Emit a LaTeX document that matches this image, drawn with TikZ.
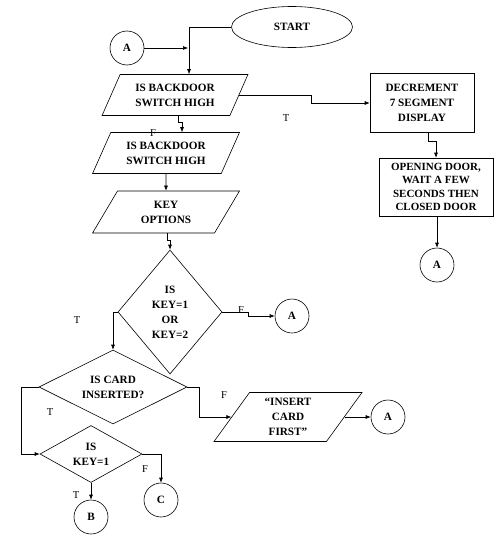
\documentclass[tikz,border=0pt]{standalone}
\usepackage{fontspec}
\setmainfont{Liberation Serif}
\usetikzlibrary{shapes.geometric,arrows.meta}
\begin{document}
\begin{tikzpicture}[x=1pt, y=-1pt, line width=0.6pt, >={Latex[length=5pt,width=4pt]},
	box/.style = {draw, font=\bfseries\fontsize{11.2}{15}\selectfont, align=center, inner sep=0pt},
	io/.style = {box, trapezium, trapezium left angle=60, trapezium right angle=120, trapezium stretches=true},
	proc/.style = {box, rectangle},
	cond/.style = {box, diamond},
	conn/.style = {draw, circle, minimum size=34pt, inner sep=0pt, font=\bfseries\fontsize{11.2}{12}\selectfont},
	lbl/.style = {font=\fontsize{10.5}{12}\selectfont, inner sep=0pt}]
	\useasboundingbox (0,0) rectangle (503,551);
	
	\node[box, ellipse, minimum width=121pt, minimum height=41pt] (start) at (292,27) {START};
	\node[conn] (a1) at (127,48) {A};
	\coordinate (join) at (188,48);
	\node[io, minimum width=146pt, minimum height=41pt] (p1) at (175,95) {IS BACKDOOR\\SWITCH HIGH};
	\node[io, minimum width=147pt, minimum height=41pt] (p2) at (166,153) {IS BACKDOOR\\SWITCH HIGH};
	\node[io, minimum width=147pt, minimum height=42pt] (p3) at (166,212) {KEY\\OPTIONS};
	\node[cond, minimum width=104pt, minimum height=124pt, aspect=0.84] (d1) at (170,312) {IS\\KEY=1\\OR\\KEY=2};
	\node[conn] (a2) at (292,316) {A};
	\node[cond, minimum width=148pt, minimum height=74pt, aspect=2] (d2) at (113,387) {IS CARD\\INSERTED?};
	\node[io, minimum width=149pt, minimum height=49pt] (p4) at (288,417) {“INSERT\\CARD\\FIRST”};
	\node[conn] (a4) at (388,417) {A};
	\node[cond, minimum width=102pt, minimum height=57pt, aspect=1.8] (d3) at (91,454) {IS\\KEY=1};
	\node[conn] (b) at (91,517) {B};
	\node[conn] (c) at (161,500) {C};
	\node[proc, minimum width=104pt, minimum height=59pt] (dec) at (422,103) {DECREMENT\\7 SEGMENT\\DISPLAY};
	\node[proc, minimum width=114pt, minimum height=58pt, font=\bfseries\fontsize{11}{13.5}\selectfont] (open) at (436,187) {OPENING DOOR,\\WAIT A FEW\\SECONDS THEN\\CLOSED DOOR};
	\node[conn] (a3) at (437,265) {A};
	
	\node[lbl] (t1) at (286,118) {T};
	\node[lbl] (f1) at (153,133) {F};
	\node[lbl] (f2) at (241,310) {F};
	\node[lbl] (t2) at (77,320) {T};
	\node[lbl] (f3) at (224,395) {F};
	\node[lbl] (t3) at (50,412) {T};
	\node[lbl] (f4) at (145,469) {F};
	\node[lbl] (t4) at (76,495) {T};
	
	\draw[->] (start.west) -| ([xshift=14pt]p1.north);
	\draw[->] (a1) -- (join);
	\draw[->] (p1.right side) -- ++(72,0) |- (dec.west);
	\draw[->] ([xshift=3pt]p1.south) -- ++(0,6) -| ([xshift=16pt]p2.north);
	\draw[->] (p2.south) -- (p3.north);
	\draw[->] ([xshift=1pt]p3.south) -- ++(0,7) -| (d1.north);
	\draw[->] (d1.east) -- ++(26,0) |- (a2);
	\draw[->] (d1.west) -| (d2.north);
	\draw[->] (d2.east) -- ++(12,0) |- (p4.left side);
	\draw[->] (p4.right side) -- (a4);
	\draw[->] (d2.west) -- ++(-17,0) |- (d3.west);
	\draw[->] (d3.east) -| (c.north);
	\draw[->] (d3.south) -- (b.north);
	\draw[->] ([xshift=6pt]dec.south) -- ++(0,8) -| (open.north);
	\draw[->] ([xshift=1pt]open.south) -- (a3.north);
	
\end{tikzpicture}
\end{document}
